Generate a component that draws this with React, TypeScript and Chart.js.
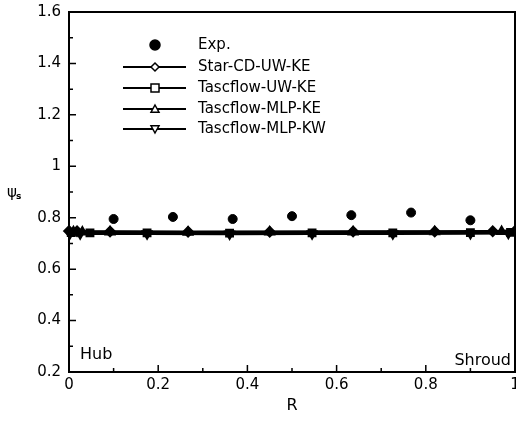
import React, { useEffect, useRef } from "react";
import { Chart, registerables } from "chart.js";

Chart.register(...registerables);

const R_EXP = [0.1, 0.233, 0.367, 0.5, 0.633, 0.767, 0.9];
const PSI_EXP = [0.795, 0.803, 0.795, 0.806, 0.81, 0.82, 0.79];

const R_STAR = [0, 0.018, 0.092, 0.267, 0.45, 0.637, 0.82, 0.95, 1.0];
const PSI_STAR = [0.748, 0.747, 0.746, 0.745, 0.745, 0.746, 0.746, 0.747, 0.748];

const R_UW = [0.005, 0.047, 0.175, 0.36, 0.545, 0.726, 0.9, 0.99];
const PSI_UW = [0.742, 0.741, 0.741, 0.74, 0.741, 0.741, 0.742, 0.743];

const R_MLPKE = [0.01, 0.03, 0.092, 0.267, 0.45, 0.637, 0.82, 0.97];
const PSI_MLPKE = [0.745, 0.744, 0.744, 0.743, 0.744, 0.744, 0.745, 0.746];

const R_MLPKW = [0.002, 0.025, 0.175, 0.36, 0.545, 0.726, 0.9, 0.985];
const PSI_MLPKW = [0.739, 0.738, 0.738, 0.737, 0.738, 0.738, 0.739, 0.74];

const LEGEND_LABELS = ["Exp.", "Star-CD-UW-KE", "Tascflow-UW-KE", "Tascflow-MLP-KE", "Tascflow-MLP-KW"];
const X_TICKS_MINOR = [0.1, 0.3, 0.5, 0.7, 0.9];
const Y_TICKS_MINOR = [0.3, 0.5, 0.7, 0.9, 1.1, 1.3, 1.5];

const FONT = "'DejaVu Sans', 'Liberation Sans', Arial, sans-serif";

const zip = (xs: number[], ys: number[]) => xs.map((x, i) => ({ x, y: ys[i] }));
const fmt = (v: any) => String(Number(Number(v).toFixed(1)));
const noPad = () => ({ left: 0, right: 0, top: 0, bottom: 0 });

function drawMarker(ctx: CanvasRenderingContext2D, style: string, x: number, y: number, r: number, fill: string) {
  ctx.save();
  ctx.beginPath();
  if (style === "circle") {
    ctx.arc(x, y, r, 0, Math.PI * 2);
  } else if (style === "rectRot") {
    ctx.moveTo(x, y - r);
    ctx.lineTo(x + r, y);
    ctx.lineTo(x, y + r);
    ctx.lineTo(x - r, y);
    ctx.closePath();
  } else if (style === "rect") {
    ctx.rect(x - r, y - r, 2 * r, 2 * r);
  } else if (style === "triangle") {
    ctx.moveTo(x, y - r);
    ctx.lineTo(x + r, y + r * 0.8);
    ctx.lineTo(x - r, y + r * 0.8);
    ctx.closePath();
  } else if (style === "triDown") {
    ctx.moveTo(x, y + r);
    ctx.lineTo(x + r, y - r * 0.8);
    ctx.lineTo(x - r, y - r * 0.8);
    ctx.closePath();
  }
  ctx.fillStyle = fill;
  ctx.fill();
  ctx.lineWidth = 1.5;
  ctx.strokeStyle = "#000";
  ctx.stroke();
  ctx.restore();
}

const decorPlugin = {
  id: "decor",
  afterDraw(chart: any) {
    const ctx: CanvasRenderingContext2D = chart.ctx;
    const { left, right, top, bottom } = chart.chartArea;
    const xs = chart.scales.x;
    const ys = chart.scales.y;
    ctx.save();
    ctx.strokeStyle = "#000";
    ctx.lineWidth = 2;
    ctx.strokeRect(left, top, right - left, bottom - top);
    ctx.lineWidth = 1.5;
    ctx.beginPath();
    xs.ticks.forEach((t: any) => {
      const px = xs.getPixelForValue(t.value);
      ctx.moveTo(px, bottom);
      ctx.lineTo(px, bottom - 7);
    });
    X_TICKS_MINOR.forEach((v) => {
      const px = xs.getPixelForValue(v);
      ctx.moveTo(px, bottom);
      ctx.lineTo(px, bottom - 4);
    });
    ys.ticks.forEach((t: any) => {
      const py = ys.getPixelForValue(t.value);
      ctx.moveTo(left, py);
      ctx.lineTo(left + 7, py);
    });
    Y_TICKS_MINOR.forEach((v) => {
      const py = ys.getPixelForValue(v);
      ctx.moveTo(left, py);
      ctx.lineTo(left + 4, py);
    });
    ctx.stroke();

    const styles = ["circle", "rectRot", "rect", "triangle", "triDown"];
    const rowY = [45, 67, 88, 109, 129];
    ctx.font = `15px ${FONT}`;
    ctx.fillStyle = "#000";
    ctx.textBaseline = "middle";
    ctx.textAlign = "left";
    LEGEND_LABELS.forEach((lab, i) => {
      const y = rowY[i];
      if (i === 0) {
        drawMarker(ctx, "circle", 155, y, 5, "#000");
      } else {
        ctx.beginPath();
        ctx.lineWidth = 2;
        ctx.strokeStyle = "#000";
        ctx.moveTo(123, y);
        ctx.lineTo(186, y);
        ctx.stroke();
        drawMarker(ctx, styles[i], 155, y, 4, "#fff");
      }
      ctx.fillStyle = "#000";
      ctx.fillText(lab, 198, y);
    });

    ctx.font = `16px ${FONT}`;
    ctx.fillText("Hub", 80, 355);
    ctx.textAlign = "right";
    ctx.fillText("Shroud", right - 4, 361);

    ctx.textAlign = "center";
    ctx.font = `16px ${FONT}`;
    ctx.fillText("R", (left + right) / 2, 406);
    ctx.textAlign = "left";
    ctx.font = `15px ${FONT}`;
    ctx.fillText("ψ", 7, 193);
    ctx.font = `bold 9px ${FONT}`;
    ctx.fillText("s", 16, 197);
    ctx.restore();
  },
};

export default function App() {
  const ref = useRef<HTMLCanvasElement>(null);
  useEffect(() => {
    if (!ref.current) return;
    const lineDs = (label: string, xs: number[], ys: number[], style: string, rot = 0) => ({
      label,
      data: zip(xs, ys),
      showLine: true,
      borderColor: "#000",
      borderWidth: 2.5,
      pointStyle: style,
      pointRotation: rot,
      pointRadius: 4.5,
      pointBackgroundColor: "#000",
      pointBorderColor: "#000",
      clip: false as any,
    });
    const chart = new Chart(ref.current, {
      type: "scatter",
      data: {
        datasets: [
          lineDs(LEGEND_LABELS[1], R_STAR, PSI_STAR, "rectRot"),
          lineDs(LEGEND_LABELS[2], R_UW, PSI_UW, "rect"),
          lineDs(LEGEND_LABELS[3], R_MLPKE, PSI_MLPKE, "triangle"),
          lineDs(LEGEND_LABELS[4], R_MLPKW, PSI_MLPKW, "triangle", 180),
          {
            label: LEGEND_LABELS[0],
            data: zip(R_EXP, PSI_EXP),
            showLine: false,
            pointStyle: "circle",
            pointRadius: 4.5,
            pointBackgroundColor: "#000",
            pointBorderColor: "#000",
            clip: false as any,
          },
        ],
      },
      options: {
        animation: false,
        responsive: false,
        layout: { autoPadding: false, padding: { top: 12, right: 1, left: 0, bottom: 0 } },
        plugins: { legend: { display: false }, tooltip: { enabled: false } },
        scales: {
          x: {
            type: "linear",
            min: 0,
            max: 1,
            grid: { display: false, drawTicks: false },
            border: { display: false },
            ticks: { stepSize: 0.2, padding: 4, color: "#000", font: { family: FONT, size: 15 }, maxRotation: 0, callback: fmt },
            afterFit: (s: any) => {
              s.height = 55;
              s.paddingLeft = 0;
              s.paddingRight = 0;
              s.getPadding = noPad;
            },
          },
          y: {
            type: "linear",
            min: 0.2,
            max: 1.6,
            grid: { display: false, drawTicks: false },
            border: { display: false },
            ticks: { stepSize: 0.2, padding: 8, color: "#000", font: { family: FONT, size: 15 }, callback: fmt },
            afterFit: (s: any) => {
              s.width = 69;
              s.paddingTop = 0;
              s.paddingBottom = 0;
              s.getPadding = noPad;
            },
          },
        },
      },
      plugins: [decorPlugin],
    });
    return () => chart.destroy();
  }, []);
  return (
    <div style={{ position: "fixed", left: 0, top: 0, width: 516, height: 427, background: "#fff", overflow: "hidden" }}>
      <canvas ref={ref} width={516} height={427} style={{ width: 516, height: 427, display: "block" }} />
    </div>
  );
}
